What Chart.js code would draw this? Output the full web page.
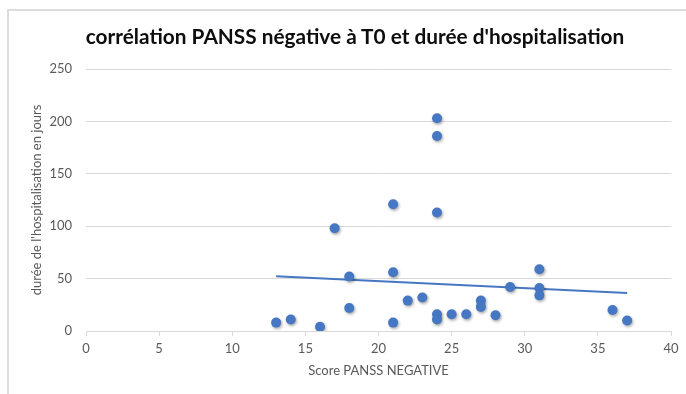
<!DOCTYPE html>
<html lang="fr">
<head>
<meta charset="utf-8">
<script src="https://cdn.jsdelivr.net/npm/chart.js@4.4.1/dist/chart.umd.min.js"></script>
<style>
  html, body { margin: 0; padding: 0; background: #ffffff; }
  #wrap { position: relative; width: 686px; height: 394px; overflow: hidden; background: #fff; }
  #frame { position: absolute; left: 7px; top: 9px; width: 700px; height: 400px;
           border-top: 2px solid #dcdcdc; border-left: 2px solid #dcdcdc; box-sizing: border-box; }
  #title { position: absolute; left: 0; width: 710px; top: 22px; text-align: center;
           font: bold 20.8px Lato, "Open Sans", sans-serif; color: #0d0d0d; line-height: 28px; white-space: nowrap; }
  canvas { position: absolute; left: 0; top: 0; }
</style>
</head>
<body>
<div id="wrap">
  <div id="frame"></div>
  <canvas id="chart" width="686" height="394"></canvas>
  <div id="title">corrélation PANSS négative à T0 et durée d'hospitalisation</div>
</div>
<script>
// Score PANSS négative à T0 (x) et durée d'hospitalisation en jours (y), un patient par point
const panssScores = [13, 14, 16, 17, 18, 18, 21, 21, 21, 22, 23, 24, 24, 24, 24, 24, 25, 26, 27, 27, 28, 29, 31, 31, 31, 36, 37];
const stayDays    = [ 8, 11,  4, 98, 52, 22, 121, 56,  8, 29, 32, 203, 186, 113, 16, 11, 16, 16, 29, 23, 15, 42, 59, 41, 34, 20, 10];

// Courbe de tendance linéaire : extrémités (score, jours)
const trendScores = [13, 37];
const trendDays   = [52.3, 36.3];

const xTicks = [0, 5, 10, 15, 20, 25, 30, 35, 40];
const yTicks = [0, 50, 100, 150, 200, 250];

const blue = '#4677c2';
const grey = '#595959';
const gridGrey = '#d9d9d9';
const fontFamily = 'Lato, "Open Sans", sans-serif';

const points = panssScores.map((x, i) => ({ x: x, y: stayDays[i] }));
const trend = trendScores.map((x, i) => ({ x: x, y: trendDays[i] }));

// légère ombre portée sous les marqueurs
const markerShadow = {
  id: 'markerShadow',
  beforeDatasetDraw(chart, args) {
    if (args.index !== 0) return;
    const ctx = chart.ctx;
    ctx.save();
    ctx.shadowColor = 'rgba(0,0,0,0.35)';
    ctx.shadowBlur = 3;
    ctx.shadowOffsetX = 1;
    ctx.shadowOffsetY = 1.5;
  },
  afterDatasetDraw(chart, args) {
    if (args.index !== 0) return;
    chart.ctx.restore();
  }
};

new Chart(document.getElementById('chart'), {
  type: 'scatter',
  data: {
    datasets: [
      {
        label: 'durée',
        data: points,
        backgroundColor: blue,
        borderWidth: 0,
        pointRadius: 5,
        order: 0
      },
      {
        type: 'line',
        label: 'tendance',
        data: trend,
        borderColor: blue,
        borderWidth: 2,
        pointRadius: 0,
        fill: false,
        order: 1
      }
    ]
  },
  options: {
    responsive: false,
    animation: false,
    events: [],
    layout: { padding: { left: 0, right: 15, top: 69, bottom: 0 } },
    plugins: {
      legend: { display: false },
      title: { display: false },
      tooltip: { enabled: false }
    },
    scales: {
      x: {
        type: 'linear',
        min: xTicks[0],
        max: xTicks[xTicks.length - 1],
        afterBuildTicks(scale) { scale.ticks = xTicks.map(v => ({ value: v })); },
        afterFit(scale) { scale.height = 63; },
        ticks: { color: grey, font: { family: fontFamily, size: 13 }, padding: 5 },
        grid: { drawOnChartArea: false, drawTicks: true, tickLength: 5, color: gridGrey },
        border: { display: true, color: gridGrey, width: 1 },
        title: {
          display: true,
          text: 'Score PANSS NEGATIVE',
          color: grey,
          font: { family: fontFamily, size: 13 },
          padding: { top: 0, bottom: 15 }
        }
      },
      y: {
        type: 'linear',
        min: yTicks[0],
        max: yTicks[yTicks.length - 1],
        afterBuildTicks(scale) { scale.ticks = yTicks.map(v => ({ value: v })); },
        afterFit(scale) { scale.width = 86; },
        ticks: { color: grey, font: { family: fontFamily, size: 13 }, padding: 14 },
        grid: { color: gridGrey, drawTicks: false, lineWidth: 1 },
        border: { display: false },
        title: {
          display: true,
          text: "durée de l'hospitalisation en jours",
          color: grey,
          font: { family: fontFamily, size: 13 },
          padding: { top: 29, bottom: 0 }
        }
      }
    }
  },
  plugins: [markerShadow]
});
</script>
</body>
</html>
